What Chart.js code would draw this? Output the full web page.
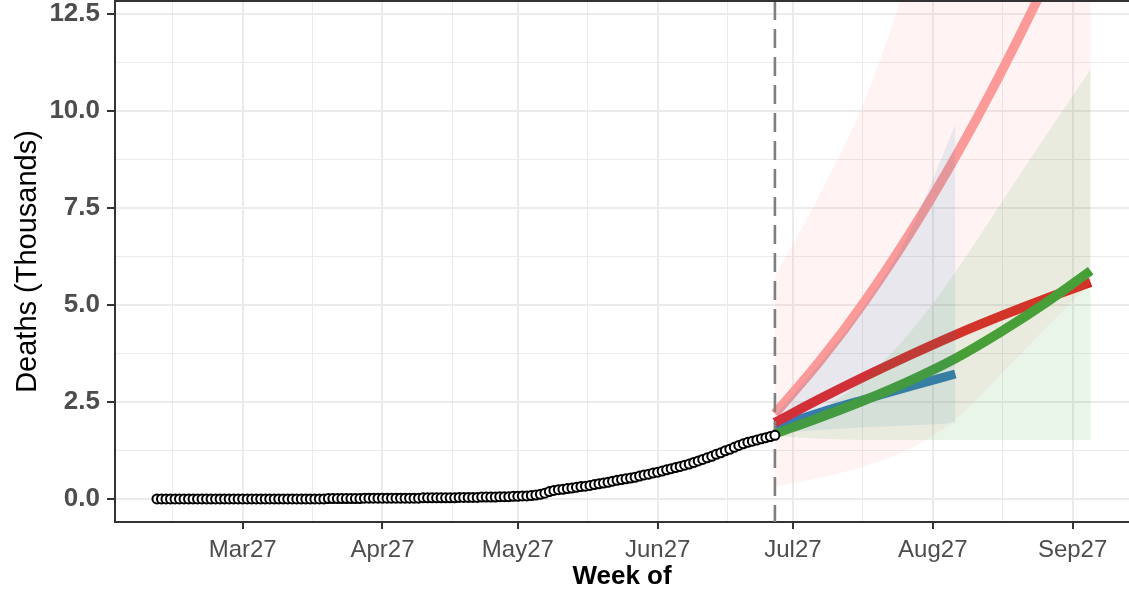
<!DOCTYPE html>
<html><head><meta charset="utf-8">
<script src="https://cdn.jsdelivr.net/npm/chart.js@4.4.1/dist/chart.umd.min.js"></script>
<style>html,body{margin:0;padding:0;background:#fff;} #wrap{width:1129px;height:592px;}</style>
</head><body><div id="wrap"><canvas id="c" width="1129" height="592"></canvas></div>
<script>
// ---------- data ----------
const obsStartDate = '2020-03-08';
const obsDeaths = [
  // Mar 8 - Mar 31
  0,0,0,0,0,0,0,0,0,0,0,0,0,0,0,0,0,0,0,0,0,0,0,0,
  // Apr 1 - Apr 30
  0,0,0,0,0,0,0,0,0,0,0,0,0,0,0.01,0.01,0.01,0.01,0.01,0.01,0.01,0.01,0.02,0.02,0.02,0.02,0.02,0.02,0.02,0.02,
  // May 1 - May 31
  0.02,0.02,0.02,0.02,0.02,0.03,0.03,0.03,0.03,0.03,0.03,0.03,0.03,0.04,0.04,0.04,0.04,0.04,0.05,0.05,
  0.05,0.05,0.06,0.06,0.06,0.07,0.07,0.08,0.08,0.09,0.10,
  // Jun 1 - Jun 30
  0.12,0.15,0.19,0.22,0.24,0.25,0.27,0.28,0.30,0.32,0.33,0.35,0.37,0.39,0.41,0.43,0.46,0.48,0.50,0.52,
  0.54,0.56,0.59,0.62,0.64,0.67,0.69,0.72,0.75,0.78,
  // Jul 1 - Jul 23
  0.81,0.84,0.87,0.90,0.94,0.98,1.02,1.06,1.10,1.15,1.19,1.24,1.28,1.33,1.38,1.42,1.46,1.49,1.52,1.55,
  1.58,1.61,1.64
];
const forecastStart = '2020-07-23';
const fcDates   = ['2020-07-23','2020-08-02','2020-08-12','2020-08-22','2020-09-01','2020-09-11','2020-09-21','2020-10-01'];
const blueDates = ['2020-07-23','2020-08-02','2020-08-12','2020-08-22','2020-09-01'];
const pinkMid  = [2.2, 3.56, 5.11, 6.86, 8.81, 10.96, 13.3, 15.83];
const pinkLo   = [0.32, 0.55, 0.85, 1.3, 2.05, 3.2, 4.4, 5.55];
const pinkHi   = [5.75, 7.85, 10.3, 13.6, 17.5, 21.5, 25.5, 30.0];
const redMid   = [1.97, 2.58, 3.16, 3.71, 4.23, 4.71, 5.16, 5.58];
const blueMid  = [1.85, 2.23, 2.57, 2.9, 3.22];
const blueLo   = [1.7, 1.78, 1.85, 1.9, 1.96];
const blueHi   = [2.15, 3.5, 5.0, 6.9, 9.65];
const greenMid = [1.68, 2.1, 2.55, 3.05, 3.62, 4.3, 5.05, 5.88];
const greenLo  = [1.62, 1.55, 1.52, 1.52, 1.52, 1.52, 1.52, 1.52];
const greenHi  = [1.75, 2.3, 3.1, 4.3, 5.85, 7.6, 9.35, 11.07];

const xTickDates  = ['2020-03-27','2020-04-27','2020-05-27','2020-06-27','2020-07-27','2020-08-27','2020-09-27'];
const xTickLabels = ['Mar27','Apr27','May27','Jun27','Jul27','Aug27','Sep27'];
const xMinorDates = ['2020-03-11','2020-04-11','2020-05-12','2020-06-11','2020-07-12','2020-08-11','2020-09-11'];
const yMajorTicks = [0, 2.5, 5, 7.5, 10, 12.5];
const yMinorTicks = [1.25, 3.75, 6.25, 8.75, 11.25];

// ---------- helpers ----------
const DAY0 = Date.UTC(2020,0,1);
function dayNum(s){const p=s.split('-').map(Number);return (Date.UTC(p[0],p[1]-1,p[2])-DAY0)/86400000;}
function pts(dates, vals){return vals.map((v,i)=>({x:dayNum(dates[i]), y:v}));}

const obsStart = dayNum(obsStartDate);
const obsPts = obsDeaths.map((v,i)=>({x:obsStart+i, y:v}));
const xMajor = xTickDates.map(dayNum);
const xMinor = xMinorDates.map(d=>dayNum(d)+0.5);
const xLabelMap = {}; xMajor.forEach((d,i)=>xLabelMap[d]=xTickLabels[i]);

const FONT = "'Liberation Sans', Arial, Helvetica, sans-serif";

const lineDs = (data, color, order, w) => ({
  data, borderColor: color, borderWidth: w, pointRadius: 0, fill: false,
  cubicInterpolationMode: 'monotone', order, clip: 0, borderCapStyle: 'butt'
});
const ribbonHi = (data, color, order) => ({
  data, borderColor: 'transparent', borderWidth: 1, pointRadius: 0, fill: '+1',
  backgroundColor: color, cubicInterpolationMode: 'monotone', order, clip: 0
});
const ribbonLo = (data, order) => ({
  data, borderColor: 'transparent', borderWidth: 1, pointRadius: 0, fill: false,
  cubicInterpolationMode: 'monotone', order, clip: 0
});

const decor = {
  id: 'decor',
  beforeDatasetDraw(chart, args) {
    if (args.index !== 0) return;
    const {ctx, chartArea:a, scales:{x}} = chart;
    const px = x.getPixelForValue(dayNum(forecastStart));
    ctx.save();
    ctx.strokeStyle = '#7F7F7F'; ctx.lineWidth = 2.6; ctx.setLineDash([19, 9]);
    ctx.beginPath(); ctx.moveTo(px, a.top); ctx.lineTo(px, a.bottom); ctx.stroke();
    ctx.restore();
  },
  afterDatasetsDraw(chart) {
    const {ctx, chartArea:a} = chart;
    ctx.save(); ctx.strokeStyle = '#333333'; ctx.lineWidth = 2;
    ctx.beginPath(); ctx.moveTo(a.left, a.top); ctx.lineTo(a.right, a.top); ctx.stroke();
    ctx.restore();
  }
};

new Chart(document.getElementById('c'), {
  type: 'line',
  data: { datasets: [
    { data: obsPts, showLine: false, pointRadius: 4.5, pointBorderWidth: 2,
      pointBackgroundColor: '#ffffff', pointBorderColor: '#000000', order: 0, clip: false },
    ribbonHi(pts(fcDates, pinkHi), 'rgba(251,154,153,0.12)', 10),
    ribbonLo(pts(fcDates, pinkLo), 10),
    ribbonHi(pts(blueDates, blueHi), 'rgba(31,120,180,0.10)', 9),
    ribbonLo(pts(blueDates, blueLo), 9),
    ribbonHi(pts(fcDates, greenHi), 'rgba(51,160,44,0.10)', 8),
    ribbonLo(pts(fcDates, greenLo), 8),
    lineDs(pts(fcDates, pinkMid), '#FB9A99', 20, 9.5),
    lineDs(pts(blueDates, blueMid), '#1F78B4', 19, 9),
    lineDs(pts(fcDates, redMid), '#E31A1C', 18, 9.5),
    lineDs(pts(fcDates, greenMid), '#33A02C', 17, 9.5)
  ]},
  options: {
    responsive: false, animation: false, devicePixelRatio: 1,
    layout: { autoPadding: false, padding: { top: 1, right: 0, left: 0, bottom: 0 } },
    plugins: { legend: { display: false }, tooltip: { enabled: false } },
    scales: {
      x: {
        type: 'linear', min: 57.7, max: 282.5,
        afterBuildTicks: s => { s.ticks = xMajor.concat(xMinor).sort((a,b)=>a-b).map(v=>({value:v})); },
        afterFit: s => { s.height = 70; s.paddingLeft = 0; s.paddingRight = 0; },
        ticks: { autoSkip: false, maxRotation: 0, padding: 7, color: '#4D4D4D',
          font: { family: FONT, size: 24 },
          callback: v => xLabelMap[v] || '' },
        grid: {
          color: '#EBEBEB',
          lineWidth: c => (c.tick && xLabelMap[c.tick.value]) ? 2 : 1,
          tickColor: c => (c.tick && xLabelMap[c.tick.value]) ? '#333333' : 'rgba(0,0,0,0)',
          tickLength: 7, tickWidth: 2
        },
        border: { display: true, color: '#333333', width: 2 },
        title: { display: true, text: 'Week of', color: '#000000',
          font: { family: FONT, size: 26, weight: 'bold' }, padding: { top: 0, bottom: 0 } }
      },
      y: {
        type: 'linear', min: -0.593, max: 12.83,
        afterBuildTicks: s => { s.ticks = yMajorTicks.concat(yMinorTicks).sort((a,b)=>a-b).map(v=>({value:v})); },
        afterFit: s => { s.width = 115; s.paddingTop = 0; s.paddingBottom = 0; },
        ticks: { autoSkip: false, padding: 7, color: '#4D4D4D',
          font: { family: FONT, size: 26, weight: 'bold' },
          callback: v => yMajorTicks.includes(v) ? v.toFixed(1) : '' },
        grid: {
          color: '#EBEBEB',
          lineWidth: c => (c.tick && yMajorTicks.includes(c.tick.value)) ? 2 : 1,
          tickColor: c => (c.tick && yMajorTicks.includes(c.tick.value)) ? '#333333' : 'rgba(0,0,0,0)',
          tickLength: 8, tickWidth: 2
        },
        border: { display: true, color: '#333333', width: 2 },
        title: { display: true, text: 'Deaths (Thousands)', color: '#000000',
          font: { family: FONT, size: 29 }, padding: { top: 11, bottom: 0 } }
      }
    }
  },
  plugins: [decor]
});
</script>
</body></html>
